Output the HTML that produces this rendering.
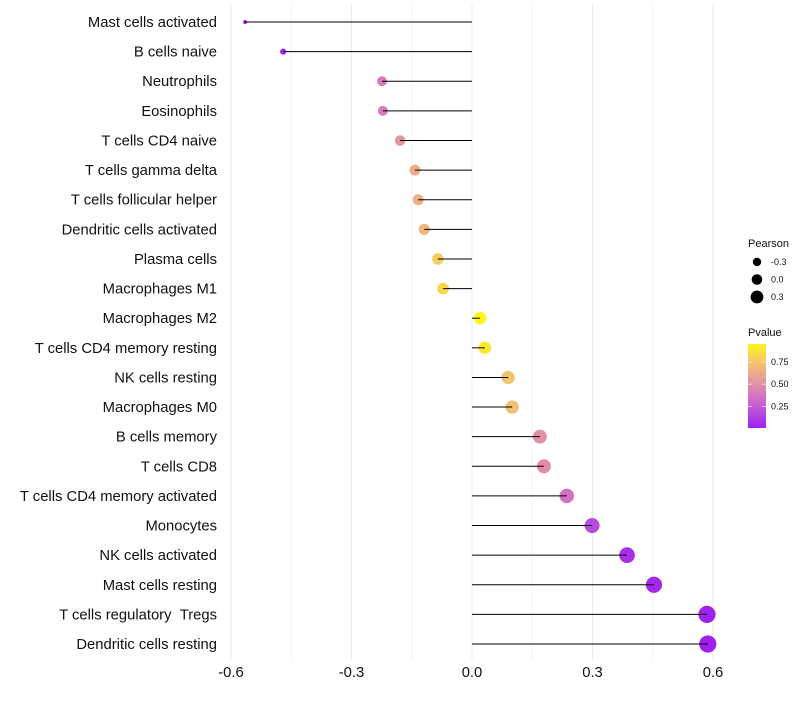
<!DOCTYPE html>
<html><head><meta charset="utf-8"><style>
body{margin:0;background:#fff}
svg{font-family:"Liberation Sans",Arial,sans-serif}
</style></head><body>
<svg id="chart" width="800" height="700" viewBox="0 0 800 700"></svg>
<script>
const categories=["Mast cells activated","B cells naive","Neutrophils","Eosinophils","T cells CD4 naive","T cells gamma delta","T cells follicular helper","Dendritic cells activated","Plasma cells","Macrophages M1","Macrophages M2","T cells CD4 memory resting","NK cells resting","Macrophages M0","B cells memory","T cells CD8","T cells CD4 memory activated","Monocytes","NK cells activated","Mast cells resting","T cells regulatory\u00a0\u00a0Tregs","Dendritic cells resting"];
const pearson=[-0.565,-0.47,-0.224,-0.222,-0.179,-0.142,-0.134,-0.119,-0.085,-0.072,0.02,0.032,0.09,0.10,0.169,0.179,0.236,0.299,0.386,0.453,0.585,0.587];
const pvalue=[0.02,0.04,0.4,0.4,0.52,0.63,0.65,0.68,0.78,0.82,0.95,0.9,0.74,0.72,0.5,0.48,0.36,0.18,0.07,0.04,0.01,0.01];
const xTicks=[-0.6,-0.3,0.0,0.3,0.6];
const xTickLabels=["-0.6","-0.3","0.0","0.3","0.6"];
const sizeLegend=[-0.3,0.0,0.3];
const sizeLegendLabels=["-0.3","0.0","0.3"];
const pLegend=[0.75,0.50,0.25];
const pLegendLabels=["0.75","0.50","0.25"];

const svg=document.getElementById('chart');
const NS='http://www.w3.org/2000/svg';
const x=v=>472+v*401.7;
const y=i=>22+i*29.62;
const r=v=>Math.sqrt(Math.max(1,38.4+60.9*v));
const pMin=0.01,pMax=0.95;
const stops=[[0,[160,32,240]],[0.25,[195,90,215]],[0.5,[225,140,170]],[0.75,[242,190,120]],[1,[255,245,25]]];
function col(p){let t=(p-pMin)/(pMax-pMin);t=Math.max(0,Math.min(1,t));
 for(let k=0;k<stops.length-1;k++){const [t0,a]=stops[k],[t1,b]=stops[k+1];
  if(t<=t1){const u=(t-t0)/(t1-t0);return 'rgb('+a.map((c,j)=>Math.round(c+(b[j]-c)*u)).join(',')+')';}}
 return 'rgb(255,245,25)';}
function mk(tag,attrs,parent){const e=document.createElementNS(NS,tag);for(const k in attrs)e.setAttribute(k,attrs[k]);(parent||svg).appendChild(e);return e;}

for(let v=-0.6;v<=0.61;v+=0.15){
 const g=mk('line',{x1:x(v),x2:x(v),y1:5,y2:660,stroke:'#ebebeb','stroke-width':Math.abs(Math.round(v/0.3)*0.3-v)<0.001?1.1:0.6});
 
 
}
xTicks.forEach((v,i)=>{
 const t=mk('text',{x:x(v),y:677,'text-anchor':'middle','font-size':14.8,fill:'#111'});t.textContent=xTickLabels[i];
 
 
});
categories.forEach((c,i)=>{
 const t=mk('text',{x:217,y:y(i)+5,'text-anchor':'end','font-size':14.8,fill:'#111'});t.textContent=c;
 
 
 const d=mk('circle',{cx:x(pearson[i]),cy:y(i),r:r(pearson[i]),fill:col(pvalue[i])});
 
 
 const l=mk('line',{x1:x(0),x2:x(pearson[i]),y1:y(i),y2:y(i),stroke:'#000','stroke-width':1});
 
 
});
const lt=mk('text',{x:748,y:247,'font-size':11,fill:'#111'});lt.textContent='Pearson';


sizeLegend.forEach((v,i)=>{
 const cy=262+i*17.5;
 const c=mk('circle',{cx:757,cy:cy,r:4.2+i*1.1,fill:'#000'});
 
 
 const t=mk('text',{x:771,y:cy+3,'font-size':9,fill:'#111'});t.textContent=sizeLegendLabels[i];
 
 
});
const pt=mk('text',{x:748,y:336,'font-size':11,fill:'#111'});pt.textContent='Pvalue';


const defs=mk('defs',{});
const gr=mk('linearGradient',{id:'pg',x1:0,y1:1,x2:0,y2:0},defs);
for(let k=0;k<=10;k++){mk('stop',{offset:k/10,'stop-color':col(pMin+(pMax-pMin)*k/10)},gr);}
const bar=mk('rect',{x:748,y:344,width:18,height:84,fill:'url(#pg)'});


const py=p=>428-(p-pMin)/(pMax-pMin)*84;
pLegend.forEach((p,i)=>{
 mk('line',{x1:748,x2:752,y1:py(p),y2:py(p),stroke:'#fff','stroke-opacity':0.6});
 mk('line',{x1:762,x2:766,y1:py(p),y2:py(p),stroke:'#fff','stroke-opacity':0.6});
 const t=mk('text',{x:771,y:py(p)+3,'font-size':9,fill:'#111'});t.textContent=pLegendLabels[i];
 
 
});
</script>
</body></html>
